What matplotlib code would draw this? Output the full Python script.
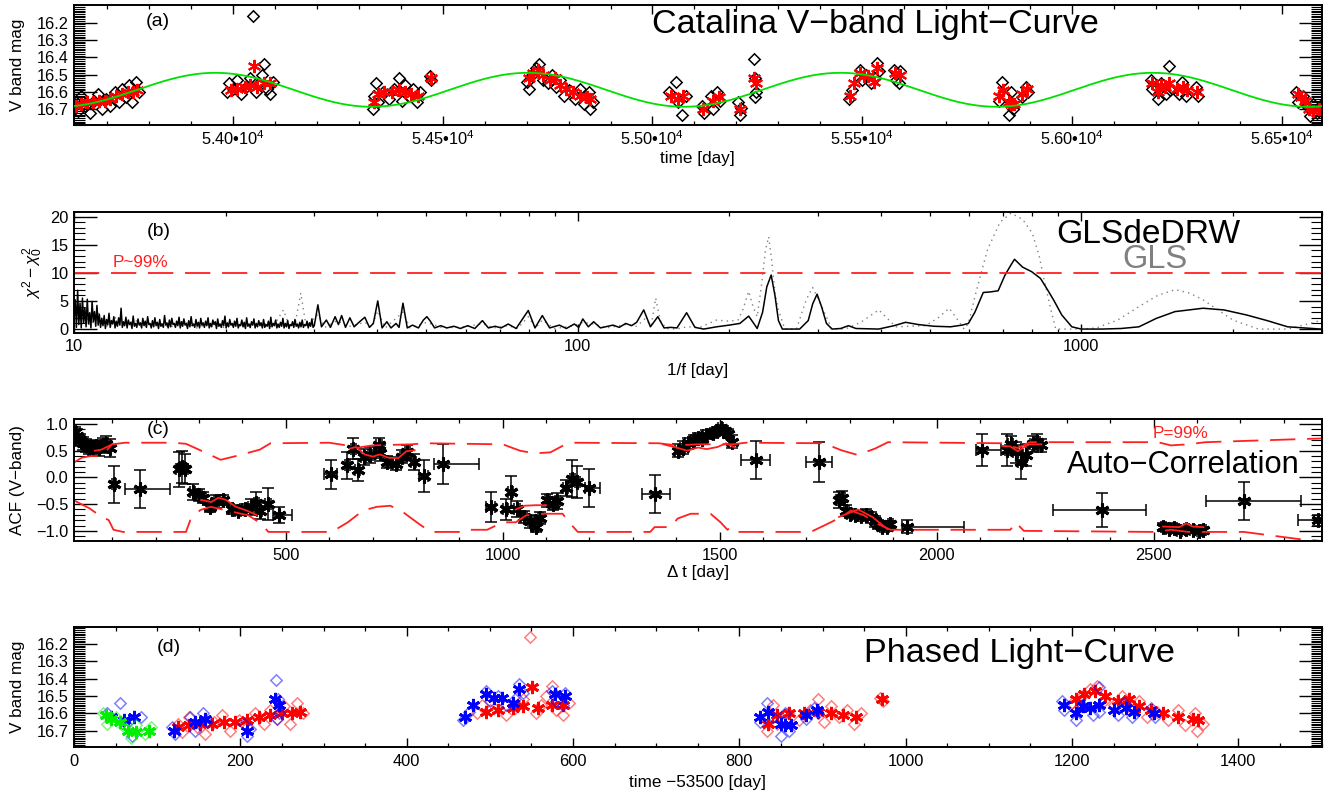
import numpy as np
import matplotlib
matplotlib.use('Agg')
import matplotlib.pyplot as plt
from matplotlib.ticker import MultipleLocator, FixedLocator, FuncFormatter, NullFormatter, LogLocator

plt.rcParams['font.family'] = ['Liberation Sans', 'DejaVu Sans']
plt.rcParams['mathtext.fontset'] = 'custom'
plt.rcParams['mathtext.rm'] = 'Liberation Sans'
plt.rcParams['mathtext.it'] = 'Liberation Sans:italic'
plt.rcParams['mathtext.bf'] = 'Liberation Sans:bold'

# ---------------- (a) Catalina light curve ----------------
# individual observations (black diamonds)
t_obs = [53625, 53630, 53638, 53648, 53658, 53668, 53678, 53688, 53698, 53708,
         53718, 53728, 53736, 53744, 53752, 53760, 53768, 53775,
         53985, 53990, 54000, 54010, 54020, 54030, 54040, 54048, 54055, 54062,
         54068, 54075, 54080, 54088, 54095,
         54333, 54336, 54340, 54345, 54358, 54372, 54385, 54395, 54402, 54410,
         54420, 54430, 54438, 54446, 54469, 54473,
         54700, 54705, 54712, 54722, 54730, 54738, 54750, 54760, 54770, 54780,
         54790, 54802, 54815, 54828, 54836, 54848, 54850, 54858,
         55040, 55055, 55062, 55070, 55080, 55118, 55122, 55140, 55145, 55155,
         55160, 55205, 55208, 55212, 55243, 55245, 55247, 55244,
         55468, 55475, 55495, 55500, 55510, 55520, 55530, 55535, 55540, 55575,
         55580, 55590, 55588,
         55825, 55833, 55840, 55850, 55855, 55860, 55880, 55890, 55895,
         56188, 56190, 56205, 56212, 56225, 56232, 56233, 56255, 56262, 56272,
         56295, 56300,
         56535, 56540, 56550, 56560, 56568, 56575, 56585, 56592]
mag_obs = [16.66, 16.71, 16.62, 16.68, 16.72, 16.65, 16.61, 16.70, 16.64, 16.68,
           16.60, 16.66, 16.58, 16.63, 16.56, 16.66, 16.54, 16.60,
           16.60, 16.55, 16.58, 16.53, 16.61, 16.57, 16.52, 16.16, 16.60, 16.55,
           16.50, 16.44, 16.58, 16.61, 16.54,
           16.70, 16.62, 16.55, 16.66, 16.60, 16.64, 16.58, 16.52, 16.65, 16.56,
           16.62, 16.58, 16.66, 16.60, 16.51, 16.53,
           16.54, 16.58, 16.50, 16.46, 16.44, 16.53, 16.55, 16.50, 16.57, 16.53,
           16.62, 16.59, 16.64, 16.58, 16.67, 16.60, 16.70, 16.66,
           16.60, 16.54, 16.66, 16.73, 16.62, 16.68, 16.72, 16.62, 16.70, 16.60,
           16.65, 16.66, 16.73, 16.69, 16.41, 16.52, 16.60, 16.63,
           16.64, 16.59, 16.47, 16.53, 16.50, 16.55, 16.52, 16.43, 16.48, 16.47,
           16.53, 16.48, 16.55,
           16.65, 16.54, 16.62, 16.73, 16.60, 16.70, 16.63, 16.57, 16.60,
           16.53, 16.58, 16.64, 16.55, 16.61, 16.45, 16.59, 16.61, 16.54, 16.62,
           16.57, 16.62,
           16.60, 16.66, 16.62, 16.68, 16.74, 16.67, 16.72, 16.68]

# nightly means (red asterisks)
t_bin = [53625, 53638, 53652, 53666, 53680, 53694, 53708, 53722, 53736, 53750,
         53762, 53772,
         53995, 54010, 54028, 54040, 54051, 54058, 54075, 54088,
         54335, 54345, 54360, 54378, 54395, 54410, 54425, 54440, 54471,
         54705, 54715, 54728, 54740, 54755, 54768, 54780, 54795, 54810, 54828,
         54845, 54852,
         55045, 55060, 55072, 55120, 55145, 55158, 55208, 55242, 55246,
         55470, 55480, 55495, 55505, 55515, 55528, 55535, 55578, 55590,
         55825, 55835, 55850, 55855, 55862, 55880, 55893,
         56190, 56205, 56213, 56222, 56232, 56250, 56265, 56275, 56298,
         56538, 56545, 56555, 56565, 56575, 56590]
mag_bin = [16.68, 16.67, 16.66, 16.66, 16.65, 16.65, 16.64, 16.62, 16.61, 16.60,
           16.60, 16.59,
           16.59, 16.58, 16.57, 16.56, 16.45, 16.57, 16.55, 16.55,
           16.66, 16.61, 16.60, 16.60, 16.59, 16.60, 16.61, 16.62, 16.52,
           16.52, 16.49, 16.47, 16.50, 16.53, 16.52, 16.56, 16.58, 16.60, 16.62,
           16.63, 16.64,
           16.62, 16.64, 16.62, 16.70, 16.65, 16.63, 16.70, 16.52, 16.55,
           16.62, 16.55, 16.49, 16.51, 16.51, 16.54, 16.46, 16.49, 16.50,
           16.62, 16.59, 16.66, 16.67, 16.67, 16.61, 16.58,
           16.55, 16.60, 16.56, 16.57, 16.55, 16.58, 16.57, 16.59, 16.60,
           16.61, 16.63, 16.65, 16.70, 16.71, 16.70]

# sinusoid model fitted to the light curve (green)
model_period = 745.0
model_tpeak = 53958.0
model_mean = 16.587
model_amp = 0.098

# ---------------- (b) periodograms ----------------
# dense short-period part of GLSdeDRW (10 - 30 d)
drw_low = [1.5, 5.2, 0.3, 6.9, 0.8, 4.6, 0.2, 5.5, 1.1, 3.8, 0.4, 5.3, 0.9, 2.9, 0.2, 4.9, 1.3, 3.1, 0.5, 4.2, 0.7, 2.6,
           0.3, 1.9, 0.6, 2.4, 0.1, 1.7, 0.8, 2.8, 0.3, 1.5, 0.9, 2.2, 0.2, 1.4, 0.5, 2.0, 0.7, 3.7, 0.3, 1.3, 0.6, 2.1,
           0.2, 1.6, 0.8, 1.2, 0.1, 2.3, 0.5, 1.0, 0.3, 1.8, 0.7, 1.1, 0.2, 1.9, 0.6, 1.4, 0.3, 2.2, 0.8, 1.0, 0.2, 1.5,
           0.4, 2.0, 0.6, 1.2, 0.1, 1.7, 0.5, 0.9, 0.3, 2.4, 0.7, 1.1, 0.2, 1.6, 0.4, 1.9, 0.8, 1.0, 0.3, 1.4, 0.6, 2.1,
           0.2, 1.3, 0.5, 1.8, 0.7, 1.0, 0.1, 1.5, 0.4, 2.2, 0.6, 0.9, 0.3, 1.7, 0.5, 1.2, 0.2, 1.9, 0.7, 1.1, 0.3, 1.4,
           0.6, 2.0, 0.2, 1.0, 0.4, 1.6, 0.8, 1.3, 0.1, 1.8, 0.5, 0.9, 0.3, 1.5, 0.6, 2.3, 0.2, 1.1, 0.4, 1.7, 0.7, 1.0,
           0.3, 1.4, 0.5, 1.9, 0.2, 0.8, 0.6, 1.6, 0.4, 1.2, 0.1, 2.0, 0.5, 0.9, 0.3, 1.3, 0.7, 1.8, 0.2, 1.0, 0.4, 1.5,
           0.6, 1.1, 0.2, 1.7, 0.3, 0.8, 0.5, 1.4, 0.1, 2.1, 0.4, 1.0, 0.6, 1.6, 0.2, 0.9, 0.3, 1.2, 0.5, 1.9, 0.2, 1.0,
           0.4, 1.5, 0.1, 0.8, 0.6, 1.3, 0.3, 1.7, 0.5, 0.9, 0.2, 1.2, 0.4, 1.6, 0.3, 0.8, 0.6, 1.4, 0.2, 1.1, 0.5, 1.8, 0.3, 0.6]
per_drw = [30.0, 30.5, 31.0, 31.7, 32.3, 33.0, 33.5, 34.0, 34.6, 35.3, 36.0, 36.8, 37.8, 38.6, 39.3, 40.1,
           40.9, 41.8, 42.6, 43.6, 44.2, 45.0, 45.9, 47.0, 48.3, 49.4, 50.2, 51.0, 52.0, 53.5, 55.0,
           56.8, 58.5, 60.5, 62.5, 64.7, 66.5, 68.6, 70.5, 72.8, 75.5, 79.8, 82.3, 85.1, 88.0, 92.0,
           95.0, 98.5, 100.5, 102.4, 105.0, 107.6, 111.0, 117.5, 121.0, 124.6, 128.0, 131.0, 135.3,
           139.5, 144.3, 148.5, 153.0, 157.5, 164.6, 171.0, 178.0, 188.8, 200.0, 210.0, 218.6, 223.0,
           227.3, 233.0, 237.5, 242.3, 246.5, 250.5, 255.0, 276.0, 287.0, 293.0, 298.9, 305.0, 312.0,
           320.0, 333.0, 345.0, 357.0, 396.0, 425.0, 448.0, 475.0, 510.0, 550.0, 580.0, 597.0, 615.0,
           639.0, 660.0, 684.0, 705.0, 722.0, 737.0, 765.0, 797.0, 830.0, 857.0, 881.0, 915.0, 958.0,
           1000.0, 1100.0, 1200.0, 1302.0, 1410.0, 1535.0, 1745.0, 1920.0, 2130.0, 2340.0, 2570.0, 2990.0]
val_drw = [0.6, 4.3, 0.4, 1.6, 0.3, 2.2, 0.8, 2.4, 0.3, 2.0, 0.4, 1.2, 2.1, 0.3, 1.0, 5.0,
           0.2, 1.3, 0.2, 1.0, 0.3, 4.6, 0.2, 0.7, 0.2, 1.6, 2.2, 1.4, 0.2, 0.6, 0.2,
           0.5, 0.1, 0.6, 0.1, 1.5, 0.2, 0.5, 0.2, 0.9, 0.1, 3.3, 0.2, 2.4, 0.2, 0.7,
           0.1, 0.9, 0.3, 1.8, 0.4, 1.3, 0.2, 0.7, 0.3, 1.0, 0.6, 1.2, 3.4,
           0.4, 2.2, 0.2, 0.3, 0.2, 2.9, 0.3, 0.0, 0.4, 0.7, 1.0, 2.3, 1.2,
           0.1, 3.0, 7.5, 9.6, 6.0, 1.5, 0.0, 0.0, 1.5, 4.5, 6.2, 4.0, 1.0,
           0.0, 0.1, 0.6, 0.1, 0.0, 0.6, 1.2, 0.8, 0.5, 0.4, 0.7, 1.0, 3.0,
           6.5, 6.6, 6.8, 9.5, 11.1, 12.4, 11.0, 10.2, 9.0, 7.0, 5.2, 2.5, 0.4,
           0.0, 0.0, 0.1, 0.4, 1.9, 3.1, 3.7, 3.4, 2.5, 1.5, 0.4, 0.0]

per_gls = [10.0, 10.4, 10.8, 11.2, 11.6, 12.1, 12.6, 13.2, 13.9, 14.7, 15.5, 16.5, 17.5, 18.6, 19.8,
           21.0, 22.3, 23.6, 24.8, 26.05, 26.8, 27.5, 28.2, 28.9, 30.5, 31.5, 33.3, 35.0, 37.8, 39.0,
           40.1, 41.5, 45.0, 46.5, 50.2, 54.0, 60.0, 64.7, 68.0, 72.8, 76.0, 79.8, 82.5, 85.1, 90.0,
           98.5, 102.4, 107.6, 114.0, 124.6, 131.0, 136.0, 140.0, 142.9, 146.0, 150.0, 157.0, 165.0,
           175.0, 188.8, 200.0, 208.2, 213.0, 218.6, 223.0, 227.3, 232.0, 236.0, 239.5, 243.0, 247.0,
           250.5, 257.9, 272.0, 284.4, 292.8, 300.0, 307.5, 319.8, 340.0, 365.0, 396.3, 428.3, 491.0,
           520.0, 546.9, 570.0, 585.4, 596.9, 620.0, 651.4, 690.0, 725.3, 765.0, 799.8, 825.0, 847.6,
           870.0, 890.2, 1000.0, 1071.5, 1181.4, 1302.2, 1420.0, 1537.0, 1640.0, 1745.0, 2000.0,
           2248.0, 2577.0, 2841.0, 2985.0]
val_gls = [0.8, 3.5, 0.6, 2.8, 0.4, 2.0, 0.3, 1.6, 0.5, 1.2, 0.3, 1.4, 0.2, 1.0, 0.3,
           0.9, 0.2, 1.2, 0.3, 3.4, 0.4, 1.0, 6.4, 0.5, 2.6, 0.3, 1.5, 0.4, 1.2, 0.3,
           3.2, 0.2, 3.0, 0.2, 1.2, 0.2, 0.4, 1.0, 0.2, 0.6, 0.1, 2.2, 0.2, 1.6, 0.1,
           0.6, 1.2, 0.9, 0.2, 0.8, 0.5, 1.8, 0.6, 5.5, 1.5, 0.1, 0.0, 0.4,
           0.3, 1.6, 1.4, 1.6, 3.5, 6.7, 4.0, 2.2, 8.0, 14.0, 16.4, 12.0, 6.0,
           3.4, 0.0, 0.0, 5.2, 7.4, 5.5, 3.4, 0.0, 0.0, 1.2, 3.4, 0.4, 0.6,
           2.0, 3.7, 1.5, 0.0, 1.0, 7.0, 14.1, 19.0, 20.6, 19.5, 17.0, 13.0, 8.0,
           3.5, 0.0, 0.0, 0.2, 1.6, 4.0, 6.0, 7.0, 6.4, 5.2, 1.6,
           0.0, 0.0, 1.0, 1.5]

# ---------------- (c) auto-correlation ----------------
acf_lag = [14, 20, 26, 33, 40, 47, 55, 62, 70, 78,
           86, 94, 104, 163, 253, 262, 268, 286, 300, 310,
           326, 340, 355, 375, 390, 405, 420, 432, 440, 459,
           485, 604, 642, 656, 666, 680, 695, 715, 718, 734,
           753, 769, 780, 795, 818, 863, 972, 1007, 1018, 1033,
           1049, 1064, 1076, 1087, 1103, 1115, 1126, 1145, 1160, 1172,
           1200, 1350, 1403, 1415, 1426, 1440, 1449, 1460, 1468, 1484,
           1495, 1502, 1513, 1520, 1528, 1583, 1729, 1775, 1782, 1792,
           1800, 1812, 1825, 1838, 1848, 1858, 1866, 1875, 1885, 1893,
           1932, 2105, 2163, 2171, 2182, 2194, 2205, 2221, 2232, 2240,
           2382, 2522, 2535, 2548, 2560, 2575, 2590, 2605, 2615, 2708,
           2880]
acf_val = [0.85, 0.78, 0.70, 0.64, 0.60, 0.56, 0.55, 0.58, 0.55, 0.60,
           0.62, 0.55, -0.13, -0.22, 0.15, 0.19, 0.15, -0.28, -0.33, -0.38,
           -0.55, -0.45, -0.42, -0.60, -0.62, -0.60, -0.55, -0.48, -0.62, -0.50,
           -0.70, 0.06, 0.23, 0.54, 0.14, 0.39, 0.42, 0.61, 0.45, 0.29,
           0.26, 0.39, 0.48, 0.29, 0.02, 0.25, -0.55, -0.60, -0.28, -0.60,
           -0.74, -0.82, -0.93, -0.76, -0.43, -0.49, -0.44, -0.20, -0.02, -0.08,
           -0.20, -0.31, 0.50, 0.56, 0.64, 0.70, 0.74, 0.72, 0.80, 0.83,
           0.87, 0.92, 0.87, 0.82, 0.67, 0.33, 0.29, -0.43, -0.38, -0.62,
           -0.68, -0.70, -0.73, -0.70, -0.75, -0.82, -0.88, -0.92, -0.93, -0.88,
           -0.92, 0.52, 0.51, 0.63, 0.47, 0.29, 0.42, 0.63, 0.66, 0.60,
           -0.61, -0.93, -0.97, -0.95, -1.00, -0.97, -0.99, -1.00, -0.98, -0.44,
           -0.80]
acf_yerr = [0.10, 0.12, 0.12, 0.12, 0.12, 0.12, 0.13, 0.13, 0.14, 0.14,
            0.15, 0.17, 0.35, 0.35, 0.33, 0.30, 0.28, 0.15, 0.12, 0.10,
            0.10, 0.12, 0.10, 0.08, 0.08, 0.10, 0.15, 0.20, 0.15, 0.30,
            0.15, 0.27, 0.25, 0.20, 0.20, 0.15, 0.15, 0.12, 0.15, 0.12,
            0.12, 0.12, 0.12, 0.15, 0.30, 0.38, 0.28, 0.20, 0.30, 0.15,
            0.12, 0.12, 0.10, 0.12, 0.12, 0.12, 0.15, 0.15, 0.35, 0.30,
            0.35, 0.36, 0.12, 0.12, 0.10, 0.10, 0.10, 0.08, 0.08, 0.08,
            0.08, 0.06, 0.06, 0.08, 0.12, 0.36, 0.37, 0.15, 0.13, 0.10,
            0.08, 0.08, 0.08, 0.10, 0.10, 0.10, 0.08, 0.06, 0.06, 0.06,
            0.12, 0.30, 0.30, 0.15, 0.20, 0.32, 0.20, 0.15, 0.15, 0.12,
            0.31, 0.08, 0.07, 0.07, 0.06, 0.06, 0.05, 0.05, 0.05, 0.36,
            0.10]
acf_xlo = ([4] * 10 +
           [4, 4, 5, 34, 6, 6, 6, 6, 6, 6] +
           [6] * 10 +
           [15, 15, 6, 6, 6, 6, 6, 6, 6, 6] +
           [6, 6, 6, 6, 10, 22, 10, 6, 6, 6] +
           [6] * 10 +
           [10, 29, 6, 6, 6, 6, 6, 6, 6, 6] +
           [6, 6, 6, 6, 6, 33, 30, 6, 6, 6] +
           [6] * 10 +
           [11, 15, 6, 6, 6, 6, 6, 6, 6, 6] +
           [113, 6, 6, 6, 6, 6, 6, 6, 6, 88] +
           [48])
acf_xhi = ([4] * 10 +
           [4, 4, 5, 70, 6, 6, 6, 6, 6, 6] +
           [6] * 10 +
           [30, 15, 6, 6, 6, 6, 6, 6, 6, 6] +
           [6, 6, 6, 6, 10, 82, 10, 6, 6, 6] +
           [6] * 10 +
           [25, 35, 6, 6, 6, 6, 6, 6, 6, 6] +
           [6, 6, 6, 6, 6, 33, 30, 6, 6, 6] +
           [6] * 10 +
           [131, 43, 6, 6, 6, 6, 6, 6, 6, 6] +
           [100, 6, 6, 6, 6, 6, 6, 6, 6, 131] +
           [48])

# 99% significance bands (red dashed)
up_lag = [12, 30, 50, 75, 100, 130, 240, 270, 300, 350, 395, 440, 465, 600, 640, 660, 700,
          790, 820, 1000, 1040, 1075, 1110, 1140, 1160, 1360, 1400, 1450, 1530, 1560, 1740,
          1780, 1818, 1858, 1888, 2150, 2187, 2215, 2510, 2540, 2580, 2620, 2887]
up_val = [0.28, 0.37, 0.40, 0.40, 0.62, 0.65, 0.65, 0.63, 0.52, 0.33, 0.42, 0.52, 0.64, 0.65,
          0.60, 0.55, 0.60, 0.62, 0.64, 0.62, 0.50, 0.45, 0.47, 0.60, 0.65, 0.64, 0.60, 0.62,
          0.62, 0.65, 0.64, 0.51, 0.42, 0.54, 0.66, 0.64, 0.55, 0.66, 0.66, 0.60, 0.62, 0.66, 0.73]
lo_lag = [12, 48, 72, 92, 103, 125, 270, 280, 303, 327, 414, 444, 460, 606, 643, 678, 710,
          741, 772, 807, 834, 903, 911, 964, 1000, 1030, 1054, 1092, 1138, 1153, 1173, 1340,
          1350, 1387, 1403, 1433, 1479, 1502, 1518, 1525, 1540, 1710, 1756, 1787, 1802, 1833,
          1864, 1894, 2170, 2182, 2201, 2500, 2540, 2580, 2708, 2831, 2887]
lo_val = [-0.43, -0.58, -0.72, -0.80, -0.98, -1.02, -1.02, -0.80, -0.61, -0.55, -0.71, -0.87,
          -1.02, -1.02, -0.84, -0.62, -0.55, -0.53, -0.66, -0.87, -1.02, -1.02, -0.98, -0.98,
          -0.84, -0.84, -0.71, -0.68, -0.68, -0.84, -1.02, -1.02, -0.93, -0.93, -0.77, -0.68,
          -0.68, -0.84, -0.98, -0.93, -1.02, -1.02, -0.84, -0.71, -0.62, -0.71, -0.87, -0.98,
          -0.98, -0.84, -1.00, -1.02, -0.98, -1.02, -1.02, -1.15, -1.19]

# binned ACF (red solid, gaps where bins are empty)
bin_lag = [60, 75, 90, 100, np.nan,
           305, 328, 345, 362, 385, 410, 432, np.nan,
           648, 662, 682, 701, 717, 736, 759, 778, 797, np.nan,
           1030, 1050, 1075, 1100, np.nan,
           1370, 1400, 1425, 1450, 1470, 1495, 1515, 1535, np.nan,
           1775, 1819, 1852, 1887, np.nan,
           2152, 2170, 2187, 2212, 2241, np.nan,
           2522, 2560, 2575, 2590, 2615]
bin_val = [0.50, 0.52, 0.58, 0.62, np.nan,
           -0.42, -0.46, -0.38, -0.42, -0.55, -0.62, -0.70, np.nan,
           0.54, 0.57, 0.43, 0.39, 0.43, 0.37, 0.36, 0.49, 0.51, np.nan,
           -0.60, -0.53, -0.52, -0.52, np.nan,
           0.62, 0.56, 0.50, 0.56, 0.53, 0.57, 0.64, 0.56, np.nan,
           -0.74, -0.60, -0.74, -0.97, np.nan,
           0.59, 0.58, 0.49, 0.62, 0.62, np.nan,
           -0.92, -0.93, -0.86, -0.92, -0.93]

# ---------------- (d) phased light curve ----------------
fold_t0 = 53500.0
fold_period = 1500.0
cycle_colors = ['#ff0000', '#0000ff', '#00ee00']

# ---------------- figure ----------------
W, H = 1338, 794
fig = plt.figure(figsize=(W / 100, H / 100), dpi=100)


def box(left, top, right, bottom):
    return [left / W, 1 - bottom / H, (right - left) / W, (bottom - top) / H]


def ftext(x, y, s, **kw):
    fig.text(x / W, 1 - y / H, s, **kw)


def frame(ax, xpad):
    for sp in ax.spines.values():
        sp.set_linewidth(1.4)
    ax.tick_params(which='both', direction='in', top=True, right=True, labelsize=11.8)
    ax.tick_params(axis='x', which='major', length=6.5, width=1.0, pad=xpad)
    ax.tick_params(axis='x', which='minor', length=3.2, width=0.9)
    ax.tick_params(axis='y', which='major', length=16.5, width=1.0, pad=4)
    ax.tick_params(axis='y', which='minor', length=8, width=0.8)


LEFT, RIGHT = 74, 1321.5
ax1 = fig.add_axes(box(LEFT, 5, RIGHT, 125))
ax2 = fig.add_axes(box(LEFT, 212, RIGHT, 333))
ax3 = fig.add_axes(box(LEFT, 419, RIGHT, 541))
ax4 = fig.add_axes(box(LEFT, 627, RIGHT, 747))

mag_fmt = FuncFormatter(lambda v, p: f'{v:.1f}')

# (a)
ax1.plot(t_obs, mag_obs, ls='none', marker=(4, 0, 0), ms=8.2, mfc='none', mec='k', mew=1.1)
ax1.plot(t_bin, mag_bin, ls='none', marker=(6, 2, 0), ms=9.5, mec='#ff0000', mew=1.5)
t_model = np.linspace(53600, 56620, 800)
mag_model = model_mean - model_amp * np.cos(2 * np.pi * (t_model - model_tpeak) / model_period)
ax1.plot(t_model, mag_model, color='#00e000', lw=1.3, zorder=4)
ax1.set_xlim(53621, 56595)
ax1.set_ylim(16.79, 16.098)
ax1.xaxis.set_major_locator(MultipleLocator(500))
ax1.xaxis.set_minor_locator(MultipleLocator(100))
ax1.xaxis.set_major_formatter(FuncFormatter(lambda v, p: f'{v / 1e4:.2f}\u202210$^{{4}}$'))
ax1.yaxis.set_major_locator(FixedLocator([16.2, 16.3, 16.4, 16.5, 16.6, 16.7]))
ax1.yaxis.set_minor_locator(MultipleLocator(0.01))
ax1.yaxis.set_major_formatter(mag_fmt)
frame(ax1, 3)
ax1.set_xlabel('time [day]', fontsize=12.3, va='center')
ax1.xaxis.set_label_coords(0.5, -0.275)
ax1.set_ylabel('V band mag', fontsize=12.3, va='center')
ax1.yaxis.set_label_coords(-0.0449, 0.5)

# (b)
per_low = np.geomspace(10, 30, len(drw_low))
ax2.plot(per_gls, val_gls, color='#808080', lw=1.0, dashes=(1, 3))
ax2.plot(list(per_low) + per_drw, drw_low + val_drw, color='k', lw=1.1)
ax2.axhline(10, color='#ff2020', lw=1.3, dashes=(14, 6.5))
ax2.set_xscale('log')
ax2.set_xlim(10, 3000)
ax2.set_ylim(-0.7, 20.8)
ax2.xaxis.set_major_locator(FixedLocator([10, 100, 1000]))
ax2.xaxis.set_minor_locator(LogLocator(base=10, subs=range(2, 10)))
ax2.xaxis.set_major_formatter(FuncFormatter(lambda v, p: f'{v:g}'))
ax2.xaxis.set_minor_formatter(NullFormatter())
ax2.yaxis.set_major_locator(MultipleLocator(5))
ax2.yaxis.set_minor_locator(MultipleLocator(1))
frame(ax2, 4)
ax2.set_xlabel('1/f [day]', fontsize=12.3, va='center')
ax2.xaxis.set_label_coords(0.5, -0.314)
ax2.set_ylabel(r'$\chi^2 - \chi_0^2$', fontsize=12.3, va='center')
ax2.yaxis.set_label_coords(-0.033, 0.5)

# (c)
ax3.errorbar(acf_lag, acf_val, yerr=acf_yerr, xerr=[acf_xlo, acf_xhi], fmt='none',
             ecolor='k', elinewidth=1.1, capsize=4.3, capthick=1.1)
ax3.plot(acf_lag, acf_val, ls='none', marker=(6, 2, 0), ms=10, mec='k', mew=2.2)
ax3.plot(up_lag, up_val, color='#ff2020', lw=1.3, dashes=(14, 6.5))
ax3.plot(lo_lag, lo_val, color='#ff2020', lw=1.3, dashes=(14, 6.5))
ax3.plot(bin_lag, bin_val, color='#ff2020', lw=1.3)
ax3.set_xlim(12, 2887)
ax3.set_ylim(-1.19, 1.094)
ax3.xaxis.set_major_locator(MultipleLocator(500))
ax3.xaxis.set_minor_locator(MultipleLocator(100))
ax3.yaxis.set_major_locator(MultipleLocator(0.5))
ax3.yaxis.set_minor_locator(MultipleLocator(0.1))
ax3.yaxis.set_major_formatter(FuncFormatter(lambda v, p: f'{v:.1f}'.replace('-', '\u2212')))
frame(ax3, 5)
ax3.set_xlabel('\u0394 t [day]', fontsize=12.3, va='center')
ax3.xaxis.set_label_coords(0.5, -0.262)
ax3.set_ylabel('ACF (V\u2212band)', fontsize=12.3, va='center')
ax3.yaxis.set_label_coords(-0.0449, 0.5)

# (d) fold the light curve with the phasing period, colour by cycle
t_obs_a = np.array(t_obs, dtype=float)
t_bin_a = np.array(t_bin, dtype=float)
cyc_obs = np.floor((t_obs_a - fold_t0) / fold_period).astype(int)
cyc_bin = np.floor((t_bin_a - fold_t0) / fold_period).astype(int)
ph_obs = t_obs_a - fold_t0 - cyc_obs * fold_period
ph_bin = t_bin_a - fold_t0 - cyc_bin * fold_period
for k, col in enumerate(cycle_colors):
    so = cyc_obs == k
    sb = cyc_bin == k
    ax4.plot(ph_obs[so], np.array(mag_obs)[so], ls='none', marker=(4, 0, 0), ms=8.2,
             mfc='none', mec=col, mew=1.1, alpha=0.5)
    ax4.plot(ph_bin[sb], np.array(mag_bin)[sb], ls='none', marker=(6, 2, 0), ms=9.5,
             mec=col, mew=2.0)
ax4.set_xlim(0, 1500)
ax4.set_ylim(16.794, 16.102)
ax4.xaxis.set_major_locator(MultipleLocator(200))
ax4.xaxis.set_minor_locator(MultipleLocator(50))
ax4.yaxis.set_major_locator(FixedLocator([16.2, 16.3, 16.4, 16.5, 16.6, 16.7]))
ax4.yaxis.set_minor_locator(MultipleLocator(0.01))
ax4.yaxis.set_major_formatter(mag_fmt)
frame(ax4, 4.8)
ax4.set_xlabel('time \u221253500 [day]', fontsize=12.3, va='center')
ax4.xaxis.set_label_coords(0.5, -0.30)
ax4.set_ylabel('V band mag', fontsize=12.3, va='center')
ax4.yaxis.set_label_coords(-0.0449, 0.5)

# annotations
ftext(651.7, 33, 'Catalina V\u2212band Light\u2212Curve', fontsize=24.5, va='baseline')
ftext(1056, 243.3, 'GLSdeDRW', fontsize=24.2, va='baseline')
ftext(1122, 267.5, 'GLS', fontsize=23.5, color='#808080', va='baseline')
ftext(1067, 473.3, 'Auto\u2212Correlation', fontsize=22.2, va='baseline')
ftext(864, 661.7, 'Phased Light\u2212Curve', fontsize=24.7, va='baseline')
ftext(113, 267, 'P~99%', fontsize=12.3, color='#ff2020', va='baseline')
ftext(1153, 437.7, 'P=99%', fontsize=12.3, color='#ff2020', va='baseline')
ftext(158, 22, '(a)', fontsize=14, ha='center', va='center')
ftext(159, 232, '(b)', fontsize=14, ha='center', va='center')
ftext(158, 429, '(c)', fontsize=14, ha='center', va='center')
ftext(169, 647, '(d)', fontsize=14, ha='center', va='center')

fig.savefig('out.png', dpi=100)
